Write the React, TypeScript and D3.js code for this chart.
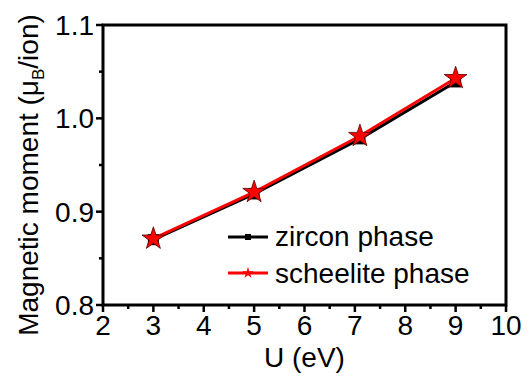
import React from "react";
import * as d3 from "d3";

const uValues = [3, 5, 7.1, 9];
const zircon = [0.870, 0.919, 0.978, 1.039];
const scheelite = [0.871, 0.921, 0.981, 1.043];
const xTicks = [2, 3, 4, 5, 6, 7, 8, 9, 10];
const yTicks = [0.8, 0.9, 1.0, 1.1];
const xMinor = [2.5, 3.5, 4.5, 5.5, 6.5, 7.5, 8.5, 9.5];
const yMinor = [0.85, 0.95, 1.05];
const seriesNames = ["zircon phase", "scheelite phase"];

const W = 531, H = 377;
const L = 103, R = 506, T = 25, B = 305;
const FONT = "'Liberation Sans', Arial, sans-serif";
const FS = 28;

export default function App() {
  const x = d3.scaleLinear().domain([2, 10]).range([L, R]);
  const y = d3.scaleLinear().domain([0.8, 1.1]).range([B, T]);
  const line = d3.line<number>().x((_, i) => x(uValues[i])).y((d) => y(d));
  const star = d3.symbol().type(d3.symbolStar).size(160)();
  const starSmall = d3.symbol().type(d3.symbolStar).size(40)();
  const sq = 11;

  return (
    <svg width={W} height={H} style={{ position: "absolute", left: 0, top: 0, background: "#fff" }} fontFamily={FONT}>
      <rect x={0} y={0} width={W} height={H} fill="#fff" />
      {xTicks.map((t) => (
        <g key={"xt" + t}>
          <line x1={x(t)} x2={x(t)} y1={B} y2={B + 7} stroke="#000" strokeWidth={2.5} />
          <text x={x(t)} y={B + 30} fontSize={FS} textAnchor="middle">{t}</text>
        </g>
      ))}
      {xMinor.map((t) => (
        <line key={"xm" + t} x1={x(t)} x2={x(t)} y1={B} y2={B + 4} stroke="#000" strokeWidth={2.5} />
      ))}
      {yTicks.map((t) => (
        <g key={"yt" + t}>
          <line x1={L - 7} x2={L} y1={y(t)} y2={y(t)} stroke="#000" strokeWidth={2.5} />
          <text x={L - 9} y={y(t) + 10} fontSize={FS} textAnchor="end">{t.toFixed(1)}</text>
        </g>
      ))}
      {yMinor.map((t) => (
        <line key={"ym" + t} x1={L - 4} x2={L} y1={y(t)} y2={y(t)} stroke="#000" strokeWidth={2.5} />
      ))}
      <rect x={L} y={T} width={R - L} height={B - T} fill="none" stroke="#000" strokeWidth={3} />
      <path d={line(zircon) || ""} fill="none" stroke="#000" strokeWidth={3} />
      {zircon.map((v, i) => (
        <rect key={"zs" + i} x={x(uValues[i]) - sq / 2} y={y(v) - sq / 2} width={sq} height={sq} fill="#000" />
      ))}
      <path d={line(scheelite) || ""} fill="none" stroke="#ff0000" strokeWidth={3} />
      {scheelite.map((v, i) => (
        <path key={"ss" + i} d={star || ""} transform={`translate(${x(uValues[i])},${y(v)})`} fill="#ff0000" stroke="#500" strokeWidth={0.8} />
      ))}
      <line x1={228} x2={268} y1={237} y2={237} stroke="#000" strokeWidth={3} />
      <rect x={245} y={234} width={6} height={6} fill="#000" />
      <text x={275} y={246} fontSize={FS}>{seriesNames[0]}</text>
      <line x1={228} x2={268} y1={273} y2={273} stroke="#ff0000" strokeWidth={3} />
      <path d={starSmall || ""} transform="translate(248,273)" fill="#ff0000" />
      <text x={275} y={283} fontSize={FS}>{seriesNames[1]}</text>
      <text x={(L + R) / 2} y={367} fontSize={FS} textAnchor="middle">U (eV)</text>
      <text transform="translate(38,175) rotate(-90)" fontSize={FS} textAnchor="middle">
        Magnetic moment (μ<tspan fontSize={17} dy={6}>B</tspan><tspan dy={-6}>/ion)</tspan>
      </text>
    </svg>
  );
}
